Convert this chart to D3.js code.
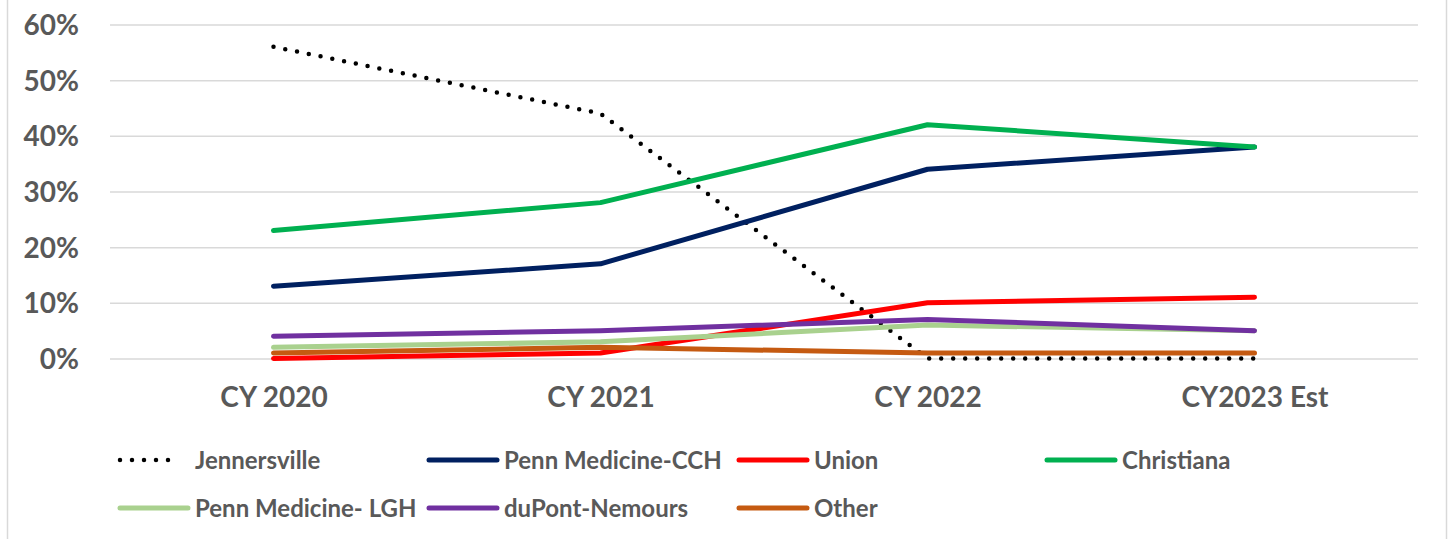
<!DOCTYPE html>
<html>
<head>
<meta charset="utf-8">
<script src="https://cdn.jsdelivr.net/npm/d3@7"></script>
<style>
  body { margin: 0; background: #fff; }
  .frame text { font-family: Lato, "Open Sans", sans-serif; font-weight: bold; fill: #595959; }
</style>
</head>
<body>
<div id="chart"></div>
<script>
// data
const CATEGORIES = ["CY 2020", "CY 2021", "CY 2022", "CY2023 Est"];
const SERIES_NAMES = ["Jennersville", "Penn Medicine-CCH", "Union", "Christiana",
                      "Penn Medicine- LGH", "duPont-Nemours", "Other"];
const JENNERSVILLE = [0.56, 0.44, 0.00, 0.00];
const PENN_CCH = [0.13, 0.17, 0.34, 0.38];
const UNION = [0.00, 0.01, 0.10, 0.11];
const CHRISTIANA = [0.23, 0.28, 0.42, 0.38];
const PENN_LGH = [0.02, 0.03, 0.06, 0.05];
const DUPONT = [0.04, 0.05, 0.07, 0.05];
const OTHER = [0.01, 0.02, 0.01, 0.01];
const Y_TICKS = [0, 0.1, 0.2, 0.3, 0.4, 0.5, 0.6];

const SERIES_VALUES = [JENNERSVILLE, PENN_CCH, UNION, CHRISTIANA, PENN_LGH, DUPONT, OTHER];
const COLORS = ["#000000", "#002060", "#FF0000", "#00B050", "#A9D18E", "#7030A0", "#C55A11"];

const FRAME_WIDTH = 1450;
const FRAME_HEIGHT = 539;
const PLOT = {left: 110, right: 1418, top: 24.5, bottom: 358.5};

const FRAME = d3.select("#chart")
                .append("svg")
                  .attr("width", FRAME_WIDTH)
                  .attr("height", FRAME_HEIGHT)
                  .attr("class", "frame");

// chart area border
FRAME.append("rect")
     .attr("x", 7.5)
     .attr("y", -5)
     .attr("width", 1439)
     .attr("height", FRAME_HEIGHT + 10)
     .attr("fill", "none")
     .attr("stroke", "#d9d9d9")
     .attr("stroke-width", 1.5);

const X_SCALE = d3.scalePoint()
                  .domain(CATEGORIES)
                  .range([PLOT.left, PLOT.right])
                  .padding(0.5);

const Y_SCALE = d3.scaleLinear()
                  .domain([0, 0.6])
                  .range([PLOT.bottom, PLOT.top]);

// gridlines + y labels
const yAxis = FRAME.append("g")
     .attr("transform", "translate(" + PLOT.left + ",0)")
     .call(d3.axisLeft(Y_SCALE)
             .tickValues(Y_TICKS)
             .tickFormat(d3.format(".0%"))
             .tickSize(-(PLOT.right - PLOT.left))
             .tickPadding(31));
yAxis.select(".domain").remove();
yAxis.selectAll("line").attr("stroke", "#d9d9d9").attr("stroke-width", 1.5);
yAxis.selectAll("text").attr("font-size", "28px").attr("dy", "0.36em");

// x labels
const xAxis = FRAME.append("g")
     .attr("transform", "translate(0," + PLOT.bottom + ")")
     .call(d3.axisBottom(X_SCALE).tickSize(0).tickPadding(29));
xAxis.select(".domain").remove();
xAxis.selectAll("text").attr("font-size", "28px");

// lines
const line = d3.line()
               .x((d, i) => X_SCALE(CATEGORIES[i]))
               .y((d) => Y_SCALE(d));

SERIES_VALUES.forEach((vals, i) => {
  const path = FRAME.append("path")
       .datum(vals)
       .attr("d", line)
       .attr("fill", "none")
       .attr("stroke", COLORS[i])
       .attr("stroke-linecap", "round")
       .attr("stroke-linejoin", "round");
  if (i == 0) {
    path.attr("stroke-width", 4.5).attr("stroke-dasharray", "0 12");
  } else {
    path.attr("stroke-width", 5);
  }
});

// legend
const LEGEND_COLS = [118, 427, 737, 1045];
const LEGEND_ROWS = [460, 508];
SERIES_NAMES.forEach((name, i) => {
  const col = i < 4 ? i : i - 4;
  const row = i < 4 ? 0 : 1;
  const x = LEGEND_COLS[col];
  const y = LEGEND_ROWS[row];
  const g = FRAME.append("g").attr("transform", "translate(" + x + "," + y + ")");
  const ln = g.append("line")
       .attr("x1", 2).attr("x2", i == 0 ? 62 : 70)
       .attr("y1", 0).attr("y2", 0)
       .attr("stroke", COLORS[i])
       .attr("stroke-linecap", "round");
  if (i == 0) {
    ln.attr("stroke-width", 4.5).attr("stroke-dasharray", "0 12");
  } else {
    ln.attr("stroke-width", 5);
  }
  g.append("text")
   .attr("x", 77)
   .attr("y", 0)
   .attr("dy", "0.36em")
   .attr("font-size", "24px")
   .text(name);
});
</script>
</body>
</html>
